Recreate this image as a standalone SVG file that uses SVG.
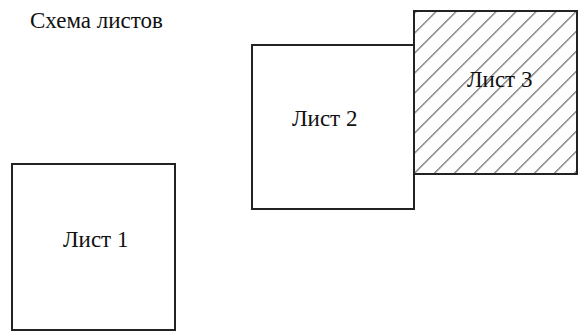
<svg xmlns="http://www.w3.org/2000/svg" width="585" height="334" viewBox="0 0 585 334">
  <style>
    .sheet { fill: #ffffff; stroke: #222222; stroke-width: 2; }
    .hatched { fill: url(#hatch); stroke: #222222; stroke-width: 2; }
    .label { font-family: "Liberation Serif", "Times New Roman", serif; font-size: 23px; fill: #111111; }
  </style>
  <defs>
    <pattern id="hatch" patternUnits="userSpaceOnUse" width="14.142" height="10" patternTransform="rotate(45)">
      <line x1="5.44" y1="-1" x2="5.44" y2="11" stroke="#444444" stroke-width="1"/>
    </pattern>
  </defs>
  <rect width="585" height="334" fill="#ffffff"/>
  <text class="label" x="30" y="28">Схема листов</text>
  <g id="sheet1">
    <rect class="sheet" x="12" y="164" width="163" height="166"/>
    <text class="label" x="63" y="247">Лист 1</text>
  </g>
  <g id="sheet2">
    <rect class="sheet" x="252" y="45" width="162" height="164"/>
    <text class="label" x="292" y="126">Лист 2</text>
  </g>
  <g id="sheet3">
    <rect class="hatched" x="414" y="11" width="163" height="163"/>
    <text class="label" x="467" y="87">Лист 3</text>
  </g>
  <g id="connectors"/>
</svg>
